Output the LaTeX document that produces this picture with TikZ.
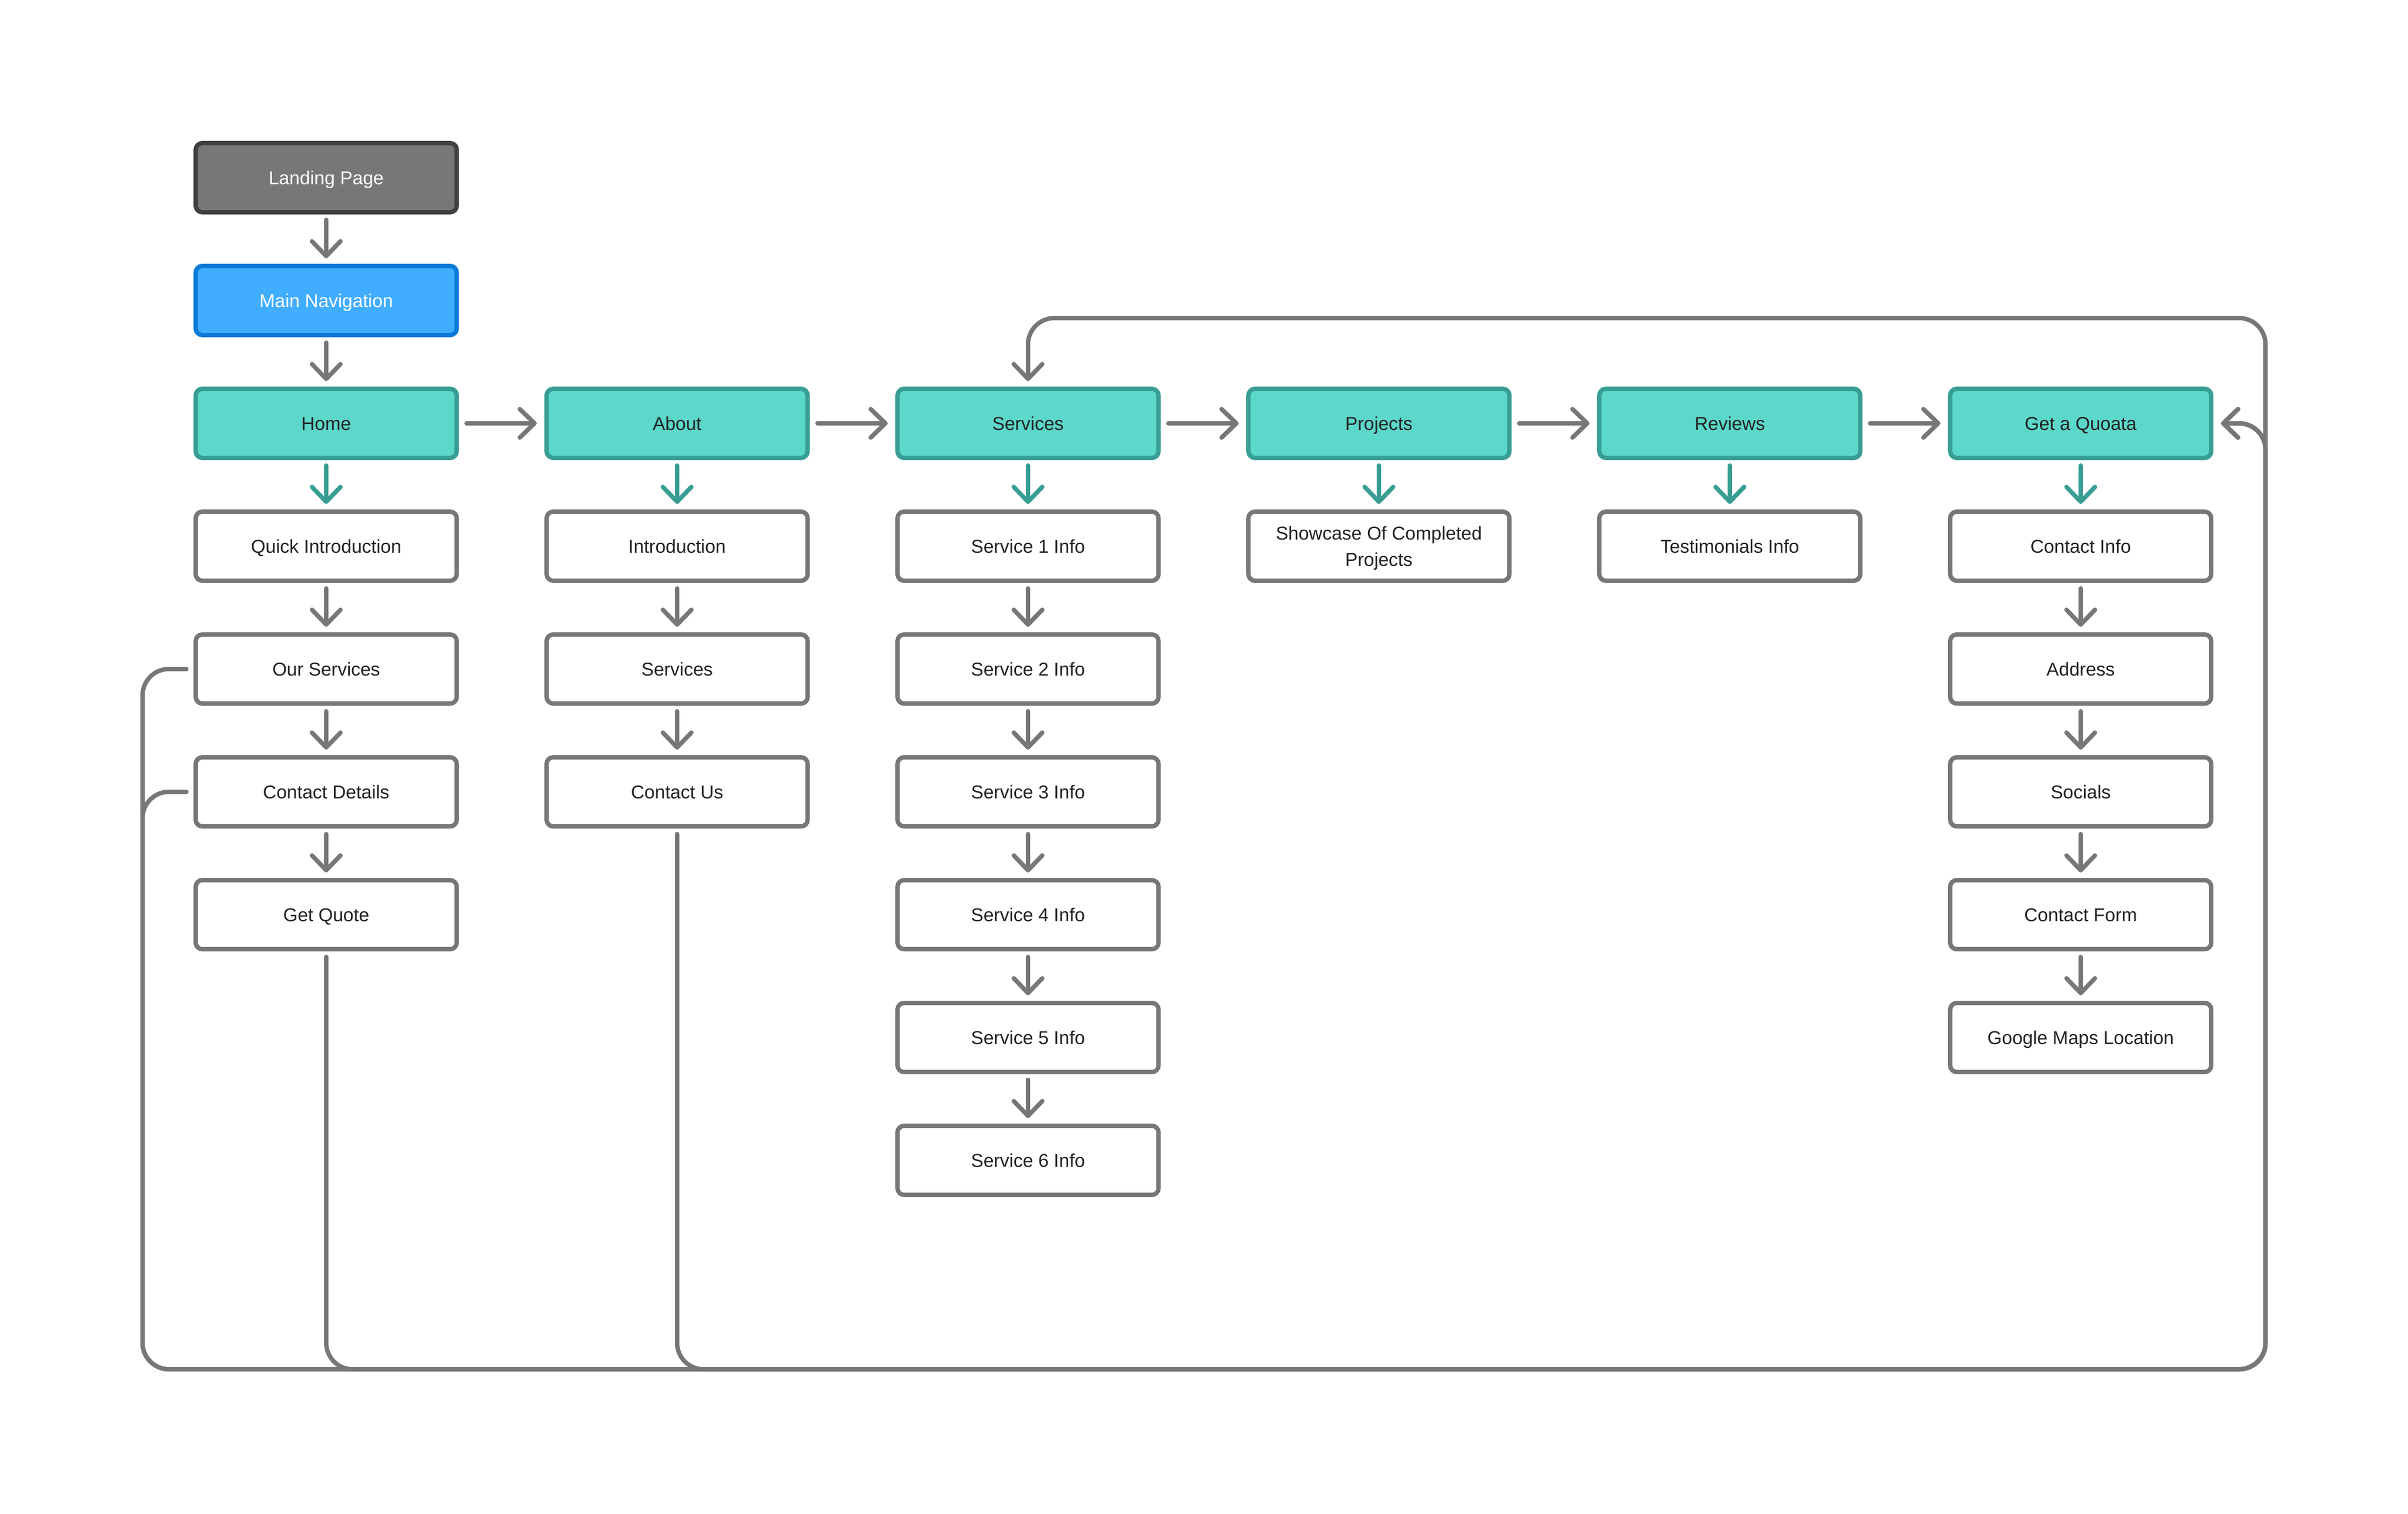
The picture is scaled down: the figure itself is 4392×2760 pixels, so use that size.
\documentclass[tikz,border=0pt]{standalone}
\usepackage{fontspec}
\setmainfont{Liberation Sans}
\usetikzlibrary{arrows.meta}
\definecolor{lgrey}{HTML}{777777}
\definecolor{dgrey}{HTML}{404040}
\definecolor{tealfill}{HTML}{5CD8CB}
\definecolor{tealline}{HTML}{389E94}
\definecolor{bluefill}{HTML}{40ADFF}
\definecolor{blueline}{HTML}{0A7AD9}
\definecolor{txt}{HTML}{222222}
\begin{document}
\begin{tikzpicture}[x=0.2pt,y=-0.2pt,
  box/.style={draw=lgrey, fill=white, line width=1.6pt, rounded corners=2.4pt,
    minimum width=95.2pt, minimum height=25.2pt, inner sep=0pt, align=center,
    text height=6.3pt, text depth=1.4pt,
    font=\fontsize{6.8}{9.6}\selectfont, text=txt},
  landbox/.style={box, draw=dgrey, fill=lgrey, text=white},
  navbox/.style={box, draw=blueline, fill=bluefill, text=white},
  tealbox/.style={box, draw=tealline, fill=tealfill, text=txt},
  tipstyle/.style={-{Straight Barb[length=5.4pt,width=10.4pt,round]}},
  varr/.style={draw=lgrey, line width=1.6pt, line cap=round, tipstyle, shorten <=2pt, shorten >=2pt},
  tarr/.style={varr, draw=tealline},
  harr/.style={draw=lgrey, line width=1.6pt, line cap=round, tipstyle, shorten <=2.8pt, shorten >=2.8pt},
  loopline/.style={draw=lgrey, line width=1.6pt, line cap=round, rounded corners=9.6pt},
  looparr/.style={loopline, tipstyle}
]
\useasboundingbox (0,0) rectangle (4392,2760);

% row 1-2
\node[landbox] (lp) at (595,324) {Landing Page};
\node[navbox] (mn) at (595,548) {Main Navigation};
% row 3
\node[tealbox] (home) at (595,772) {Home};
\node[tealbox] (about) at (1235,772) {About};
\node[tealbox] (serv) at (1875,772) {Services};
\node[tealbox] (proj) at (2515,772) {Projects};
\node[tealbox] (rev) at (3155,772) {Reviews};
\node[tealbox] (gq) at (3795,772) {Get a Quoata};
% column 1
\node[box] (qi) at (595,996) {Quick Introduction};
\node[box] (os) at (595,1220) {Our Services};
\node[box] (cd) at (595,1444) {Contact Details};
\node[box] (gqt) at (595,1668) {Get Quote};
% column 2
\node[box] (intro) at (1235,996) {Introduction};
\node[box] (asv) at (1235,1220) {Services};
\node[box] (cu) at (1235,1444) {Contact Us};
% column 3
\node[box] (s1) at (1875,996) {Service 1 Info};
\node[box] (s2) at (1875,1220) {Service 2 Info};
\node[box] (s3) at (1875,1444) {Service 3 Info};
\node[box] (s4) at (1875,1668) {Service 4 Info};
\node[box] (s5) at (1875,1892) {Service 5 Info};
\node[box] (s6) at (1875,2116) {Service 6 Info};
% column 4
\node[box, text height=15.9pt] (sc) at (2515,996) {Showcase Of Completed\\Projects};
% column 5
\node[box] (ti) at (3155,996) {Testimonials Info};
% column 6
\node[box] (ci) at (3795,996) {Contact Info};
\node[box] (ad) at (3795,1220) {Address};
\node[box] (so) at (3795,1444) {Socials};
\node[box] (cf) at (3795,1668) {Contact Form};
\node[box] (gm) at (3795,1892) {Google Maps Location};

% loop coordinates
\coordinate (BL) at (260,2497);
\coordinate (BR) at (4132,2497);
\coordinate (TR) at (4132,580);

% loop connectors (drawn first)
\draw[looparr] ([xshift=-2.6pt]os.west) -| (BL) -- (BR) -- (TR) -| ([yshift=2pt]serv.north);
\draw[looparr] ([xshift=-2.6pt]cd.west) -| (BL) -- (BR) |- ([xshift=2.8pt]gq.east);
\draw[looparr] ([yshift=-2pt]gqt.south) |- (BR) |- ([xshift=2.8pt]gq.east);
\draw[looparr] ([yshift=-2pt]cu.south) |- (BR) |- ([xshift=2.8pt]gq.east);

% vertical arrows
\draw[varr] (lp) -- (mn);
\draw[varr] (mn) -- (home);
\draw[tarr] (home) -- (qi);
\draw[tarr] (about) -- (intro);
\draw[tarr] (serv) -- (s1);
\draw[tarr] (proj) -- (sc);
\draw[tarr] (rev) -- (ti);
\draw[tarr] (gq) -- (ci);
\draw[varr] (qi) -- (os);
\draw[varr] (os) -- (cd);
\draw[varr] (cd) -- (gqt);
\draw[varr] (intro) -- (asv);
\draw[varr] (asv) -- (cu);
\draw[varr] (s1) -- (s2);
\draw[varr] (s2) -- (s3);
\draw[varr] (s3) -- (s4);
\draw[varr] (s4) -- (s5);
\draw[varr] (s5) -- (s6);
\draw[varr] (ci) -- (ad);
\draw[varr] (ad) -- (so);
\draw[varr] (so) -- (cf);
\draw[varr] (cf) -- (gm);

% horizontal arrows
\draw[harr] (home) -- (about);
\draw[harr] (about) -- (serv);
\draw[harr] (serv) -- (proj);
\draw[harr] (proj) -- (rev);
\draw[harr] (rev) -- (gq);
\end{tikzpicture}
\end{document}
